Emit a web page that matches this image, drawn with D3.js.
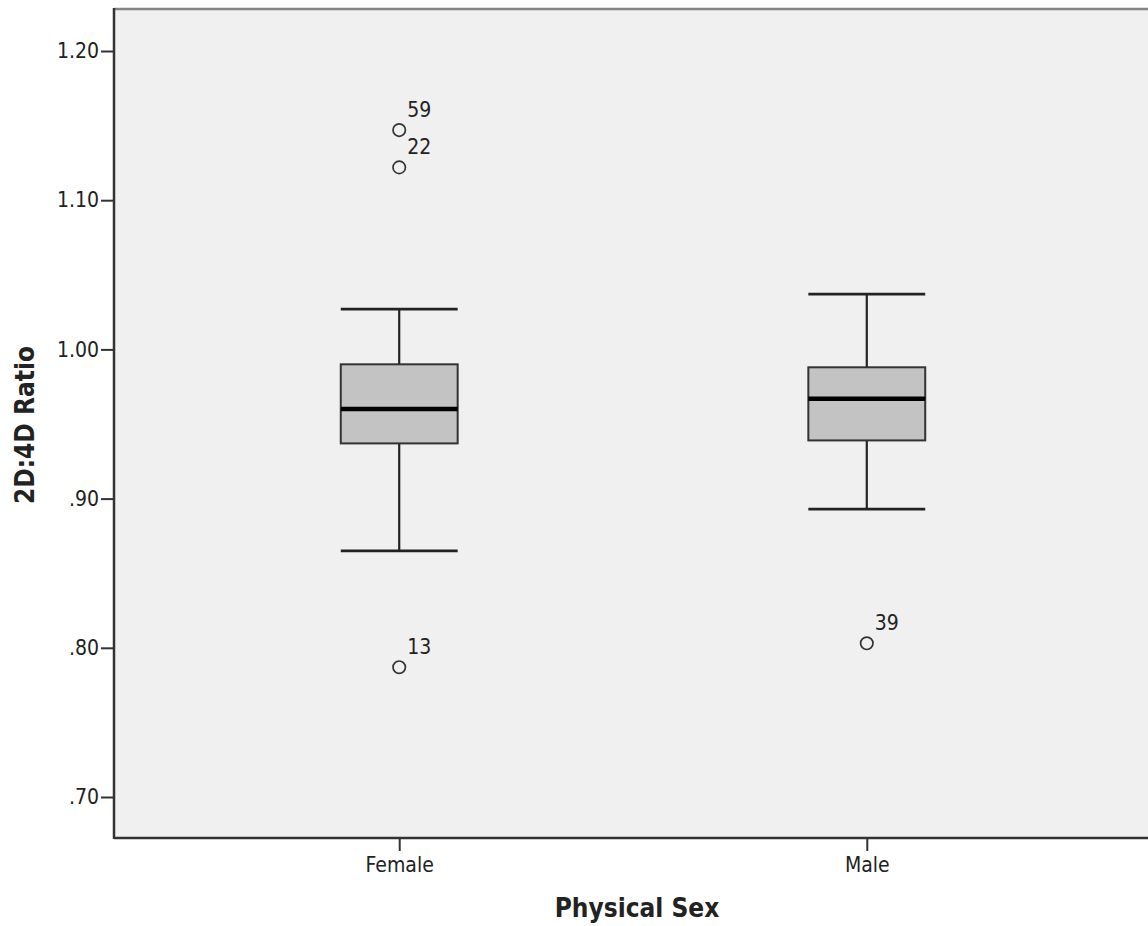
<!DOCTYPE html>
<html>
<head>
<meta charset="utf-8">
<script src="https://cdn.jsdelivr.net/npm/d3@7"></script>
<style>
  html, body { margin: 0; padding: 0; background: #fff; }
  svg { display: block; }
  text { font-family: "DejaVu Sans Condensed", "DejaVu Sans", sans-serif; fill: #222; }
</style>
</head>
<body>
<svg id="chart" width="1148" height="926"></svg>
<script>
// ---- Data ----
const categories = ["Female", "Male"];
const whiskerLow  = [0.865, 0.893];
const q1          = [0.937, 0.939];
const medians     = [0.960, 0.967];
const q3          = [0.990, 0.988];
const whiskerHigh = [1.027, 1.037];
const outlierGroup = ["Female", "Female", "Female", "Male"];
const outlierValue = [1.147, 1.122, 0.787, 0.803];
const outlierLabel = ["59", "22", "13", "39"];
const yTicks = [0.70, 0.80, 0.90, 1.00, 1.10, 1.20];
const xTitle = "Physical Sex";
const yTitle = "2D:4D Ratio";

(function () {
// ---- Layout ----
const svg = d3.select("#chart");
const pLeft = 114, pRight = 1152, pTop = 9, pBottom = 838;

const y = d3.scaleLinear().domain([0.70, 1.20]).range([797, 51]);
const x = d3.scalePoint().domain(categories).range([pLeft, pRight]).padding(0.61);
const step = x.step();
const boxW = step * 0.25;
const capW = step * 0.125;
const FONT = '"DejaVu Sans Condensed", "DejaVu Sans", sans-serif';

// background
svg.append("rect").attr("x", pLeft).attr("y", pTop)
  .attr("width", 1148 - pLeft + 10).attr("height", pBottom - pTop)
  .attr("fill", "#f0f0f0");

// top border
svg.append("line").attr("x1", pLeft).attr("x2", 1160).attr("y1", pTop).attr("y2", pTop)
  .attr("stroke", "#858585").attr("stroke-width", 2.5);

// axes
const yAxis = d3.axisLeft(y).tickValues(yTicks).tickSize(13).tickPadding(2)
  .tickFormat(d => d3.format(".2f")(d).replace(/^0\./, "."));
const gy = svg.append("g").attr("transform", `translate(${pLeft},0)`).call(yAxis);
gy.select(".domain").remove();
gy.selectAll(".tick line").attr("stroke", "#333").attr("stroke-width", 2);
gy.selectAll(".tick text").attr("font-size", 21).attr("fill", "#222").attr("font-family", FONT);

const xAxis = d3.axisBottom(x).tickSize(13).tickPadding(6);
const gx = svg.append("g").attr("transform", `translate(0,${pBottom})`).call(xAxis);
gx.select(".domain").remove();
gx.selectAll(".tick line").attr("stroke", "#333").attr("stroke-width", 2);
gx.selectAll(".tick text").attr("font-size", 21).attr("fill", "#222").attr("font-family", FONT);

// axis lines
svg.append("line").attr("x1", pLeft).attr("x2", pLeft).attr("y1", pTop - 1).attr("y2", pBottom + 1)
  .attr("stroke", "#333").attr("stroke-width", 2.5);
svg.append("line").attr("x1", pLeft).attr("x2", 1160).attr("y1", pBottom).attr("y2", pBottom)
  .attr("stroke", "#333").attr("stroke-width", 2.5);

// boxes
const boxes = svg.append("g").selectAll("g").data(categories).join("g");
boxes.append("line") // whisker stem
  .attr("x1", d => x(d)).attr("x2", d => x(d))
  .attr("y1", (d, i) => y(whiskerHigh[i])).attr("y2", (d, i) => y(whiskerLow[i]))
  .attr("stroke", "#222").attr("stroke-width", 2.2);
boxes.append("line")
  .attr("x1", d => x(d) - capW).attr("x2", d => x(d) + capW)
  .attr("y1", (d, i) => y(whiskerHigh[i])).attr("y2", (d, i) => y(whiskerHigh[i]))
  .attr("stroke", "#222").attr("stroke-width", 2.8);
boxes.append("line")
  .attr("x1", d => x(d) - capW).attr("x2", d => x(d) + capW)
  .attr("y1", (d, i) => y(whiskerLow[i])).attr("y2", (d, i) => y(whiskerLow[i]))
  .attr("stroke", "#222").attr("stroke-width", 2.8);
boxes.append("rect")
  .attr("x", d => x(d) - boxW / 2).attr("width", boxW)
  .attr("y", (d, i) => y(q3[i])).attr("height", (d, i) => y(q1[i]) - y(q3[i]))
  .attr("fill", "#c3c3c3").attr("stroke", "#333").attr("stroke-width", 2);
boxes.append("line")
  .attr("x1", d => x(d) - boxW / 2).attr("x2", d => x(d) + boxW / 2)
  .attr("y1", (d, i) => y(medians[i])).attr("y2", (d, i) => y(medians[i]))
  .attr("stroke", "#000").attr("stroke-width", 4.5);

// outliers
const outliers = svg.append("g").selectAll("g").data(outlierValue).join("g")
  .attr("transform", (d, i) => `translate(${x(outlierGroup[i])},${y(d)})`);
outliers.append("circle").attr("r", 6.2)
  .attr("fill", "none").attr("stroke", "#333").attr("stroke-width", 1.7);
outliers.append("text").attr("x", 8).attr("y", -13)
  .attr("font-size", 21).text((d, i) => outlierLabel[i]);

// titles
svg.append("text").attr("x", (x(categories[0]) + x(categories[1])) / 2 + 4).attr("y", 917)
  .attr("text-anchor", "middle").attr("font-weight", "bold").attr("font-size", 26)
  .text(xTitle);
svg.append("text").attr("transform", "translate(34,425) rotate(-90)")
  .attr("text-anchor", "middle").attr("font-weight", "bold").attr("font-size", 26)
  .text(yTitle);
})();
</script>
</body>
</html>
